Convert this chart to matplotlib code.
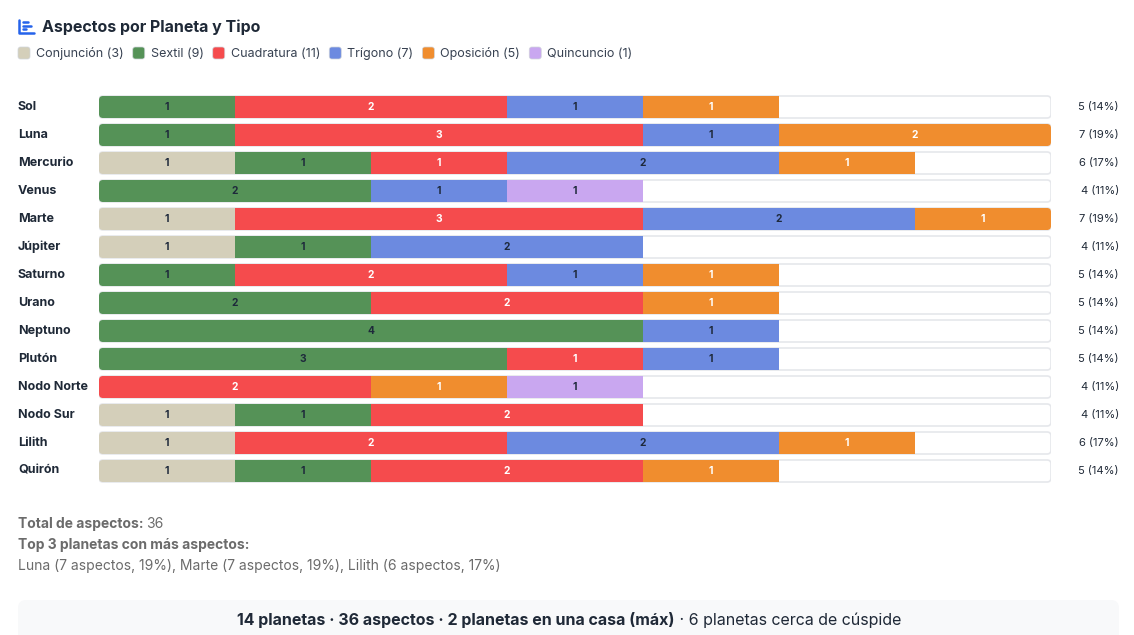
import matplotlib.pyplot as plt
from matplotlib.patches import FancyBboxPatch

plt.rcParams['font.family'] = ['Inter', 'DejaVu Sans']

W, H = 1134, 635

# Datos
planetas = ['Sol', 'Luna', 'Mercurio', 'Venus', 'Marte', 'Júpiter', 'Saturno',
            'Urano', 'Neptuno', 'Plutón', 'Nodo Norte', 'Nodo Sur', 'Lilith', 'Quirón']
tipos = ['Conjunción', 'Sextil', 'Cuadratura', 'Trígono', 'Oposición', 'Quincuncio']
conjuncion = [0, 0, 1, 0, 1, 1, 0, 0, 0, 0, 0, 1, 1, 1]
sextil = [1, 1, 1, 2, 0, 1, 1, 2, 4, 3, 0, 1, 0, 1]
cuadratura = [2, 3, 1, 0, 3, 0, 2, 2, 0, 1, 2, 2, 2, 2]
trigono = [1, 1, 2, 1, 2, 2, 1, 0, 1, 1, 0, 0, 2, 0]
oposicion = [1, 2, 1, 0, 1, 0, 1, 1, 0, 0, 1, 0, 1, 1]
quincuncio = [0, 0, 0, 1, 0, 0, 0, 0, 0, 0, 1, 0, 0, 0]
series = [conjuncion, sextil, cuadratura, trigono, oposicion, quincuncio]
top3 = ['Luna', 'Marte', 'Lilith']

colores = ['#d4cfba', '#559257', '#f54b4d', '#6c8ae0', '#f08d2e', '#c9a7f0']
texto_blanco = [False, False, True, False, True, False]

totales = [sum(s[i] for s in series) for i in range(len(planetas))]
total_aspectos = sum(totales) // 2
leyenda_n = [sum(s) // 2 for s in series]

DARK = '#1f2937'
GREY = '#6b6b6b'

fig = plt.figure(figsize=(W / 100, H / 100), dpi=100)
bg = fig.add_axes([0, 0, 1, 1])
bg.set_xlim(0, W)
bg.set_ylim(H, 0)
bg.axis('off')
renderer = fig.canvas.get_renderer()


def ancho(t):
    return t.get_window_extent(renderer).width


# Icono y título
ic = '#2563eb'
bg.plot([19, 19, 34], [19.5, 33, 33], color=ic, lw=1.8, solid_capstyle='round')
for yy, x2 in [(22, 28), (25.5, 31), (29, 26)]:
    bg.plot([23, x2], [yy, yy], color=ic, lw=1.8, solid_capstyle='round')
bg.text(42, 27, 'Aspectos por Planeta y Tipo', fontsize=11.5, fontweight='bold',
        color=DARK, va='center', ha='left')

# Leyenda
x = 18
for tipo, col, n in zip(tipos, colores, leyenda_n):
    bg.add_patch(FancyBboxPatch((x, 47), 12, 12, boxstyle='round,pad=0,rounding_size=2.5',
                                facecolor=col, edgecolor='#d1d5db', lw=0.5))
    t = bg.text(x + 18, 54, f'{tipo} ({n})', fontsize=9, color='#374151',
                va='center', ha='left')
    x += 18 + ancho(t) + 9

# Barras
ax = fig.add_axes([99 / W, 1 - 485 / H, (1051 - 99) / W, 392 / H])
ax.set_xlim(0, 7)
ax.set_ylim(len(planetas) - 0.5, -0.5)
ax.axis('off')
bbox = ax.get_window_extent(renderer)
px_x = bbox.width / 7
px_y = bbox.height / len(planetas)
alto = 22 / px_y
radio = 4 / px_x

pistas = []
for i in range(len(planetas)):
    p = FancyBboxPatch((0, i - alto / 2), 7, alto,
                       boxstyle=f'round,pad=0,rounding_size={radio}',
                       mutation_aspect=px_x / px_y,
                       facecolor='white', edgecolor='#e5e7eb', lw=1.2, zorder=1)
    ax.add_patch(p)
    pistas.append(p)

izq = [0] * len(planetas)
for s, col, blanco in zip(series, colores, texto_blanco):
    barras = ax.barh(range(len(planetas)), s, left=izq, height=alto,
                     color=col, linewidth=0, zorder=2)
    for i, (r, v) in enumerate(zip(barras, s)):
        r.set_clip_path(pistas[i])
        if v > 0:
            ax.text(izq[i] + v / 2, i, str(v), ha='center', va='center',
                    fontsize=7.4, fontweight='bold', zorder=3,
                    color='white' if blanco else '#1e293b')
    izq = [a + b for a, b in zip(izq, s)]

for i, nombre in enumerate(planetas):
    y = 107 + i * 28
    bg.text(18, y, nombre, fontsize=9, fontweight='bold', color=DARK,
            va='center', ha='left')
    pct = round(totales[i] / total_aspectos * 100)
    bg.text(1119, y, f'{totales[i]} ({pct}%)', fontsize=8, color=DARK,
            va='center', ha='right')

# Resumen
t = bg.text(18, 524, 'Total de aspectos:', fontsize=10, fontweight='bold',
            color=GREY, va='center', ha='left')
bg.text(18 + ancho(t) + 3, 524, str(total_aspectos), fontsize=10, color=GREY,
        va='center', ha='left')
bg.text(18, 545, 'Top 3 planetas con más aspectos:', fontsize=10,
        fontweight='bold', color=GREY, va='center', ha='left')
linea = ', '.join(f'{n} ({totales[planetas.index(n)]} aspectos, '
                  f'{round(totales[planetas.index(n)] / total_aspectos * 100)}%)'
                  for n in top3)
bg.text(18, 566, linea, fontsize=10, color=GREY, va='center', ha='left')

# Pie
bg.add_patch(FancyBboxPatch((18, 600), 1101, 50, boxstyle='round,pad=0,rounding_size=8',
                            facecolor='#f8f9fa', edgecolor='none', zorder=0))
parte1 = f'{len(planetas)} planetas · {total_aspectos} aspectos · 2 planetas en una casa (máx)'
parte2 = ' · 6 planetas cerca de cúspide'
t1 = bg.text(0, 620, parte1, fontsize=11.5, fontweight='bold', color=DARK,
             va='center', ha='left')
t2 = bg.text(0, 620, parte2, fontsize=11.5, color=DARK, va='center', ha='left')
w1, w2 = ancho(t1), ancho(t2)
x0 = 569 - (w1 + w2) / 2
t1.set_x(x0)
t2.set_x(x0 + w1)

fig.savefig('out.png', dpi=100, facecolor='white')
